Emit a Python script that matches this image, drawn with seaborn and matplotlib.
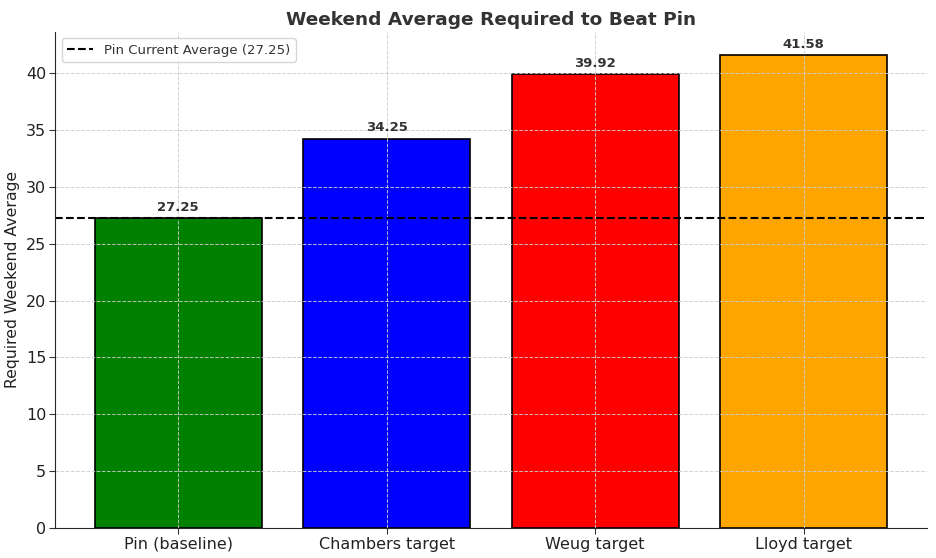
import matplotlib
matplotlib.use("Agg")
import matplotlib.pyplot as plt
import seaborn as sns
import pandas as pd

# datos
categorias = ["Pin (baseline)", "Chambers target", "Weug target", "Lloyd target"]
promedios = [27.25, 34.25, 39.92, 41.58]
colores = ["green", "blue", "red", "orange"]
promedio_pin = 27.25

df = pd.DataFrame({"categoria": categorias, "promedio": promedios})

sns.set_style("ticks")
plt.rcParams["axes.axisbelow"] = "line"
plt.rcParams["font.family"] = ["DejaVu Sans"]
plt.rcParams["text.color"] = "#333333"
plt.rcParams["xtick.color"] = "#333333"
plt.rcParams["ytick.color"] = "#333333"
plt.rcParams["xtick.labelcolor"] = "#222222"
plt.rcParams["ytick.labelcolor"] = "#222222"

fig, ax = plt.subplots(figsize=(9.36, 5.58), dpi=100)

sns.barplot(
    data=df, x="categoria", y="promedio", hue="categoria",
    palette=colores, saturation=1, edgecolor="black", linewidth=1.2,
    width=0.8, legend=False, ax=ax
)

ax.axhline(promedio_pin, color="black", linestyle="--", linewidth=1.5,
           label=f"Pin Current Average ({promedio_pin})")

# etiquetas sobre las barras
for i, v in enumerate(promedios):
    ax.text(i, v + 0.4, f"{v:.2f}", ha="center", va="bottom",
            fontsize=9.5, fontweight="bold", color="#333333")

ax.set_xlim(-0.59, len(categorias) - 1 + 0.59)
ax.set_ylim(0, max(promedios) * 1.05)
ax.grid(True, linestyle="--", color="#cccccc", linewidth=0.7, alpha=0.9)
ax.set_title("Weekend Average Required to Beat Pin", fontsize=13.3,
             fontweight="bold", color="#333333", pad=5)
ax.set_xlabel("")
ax.set_ylabel("Required Weekend Average", fontsize=11.3, color="#222222", labelpad=4)
ax.tick_params(axis="both", labelsize=11.5, length=4, pad=2.5)
ax.legend(loc="upper left", fontsize=9.5)
sns.despine(ax=ax)

fig.subplots_adjust(left=0.059, right=0.990, bottom=0.054, top=0.943)
fig.savefig("out.png", dpi=100)
